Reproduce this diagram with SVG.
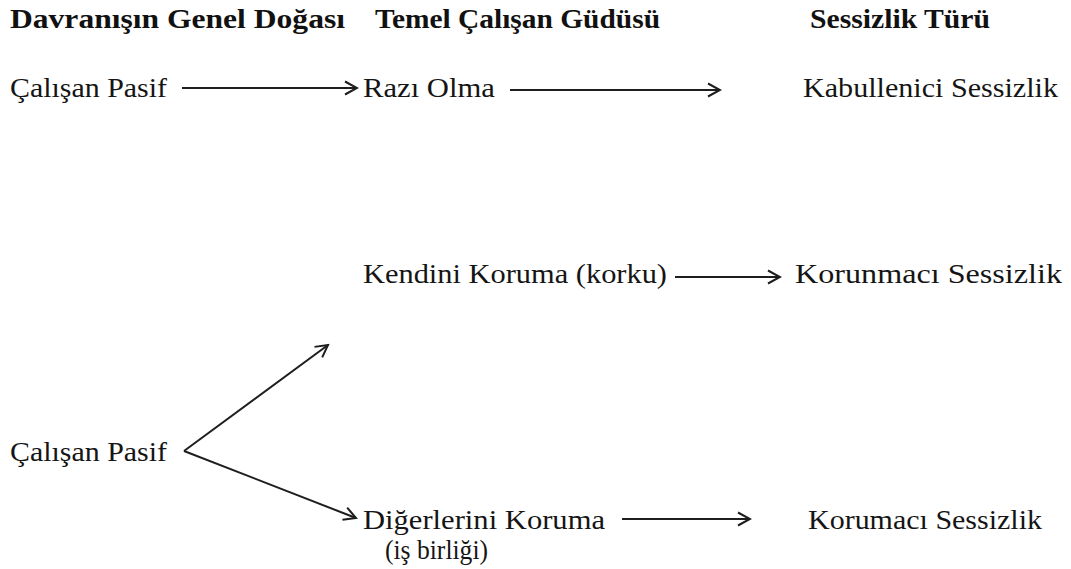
<svg xmlns="http://www.w3.org/2000/svg" width="1071" height="569" viewBox="0 0 1071 569">
  <style>
    .head { font-size: 28px; font-weight: bold; fill: #111; }
    .lbl { font-size: 28px; fill: #151515; }
    .conn line { stroke: #1e1e1e; stroke-width: 2; fill: none; marker-end: url(#chev); }
  </style>
  <defs>
    <marker id="chev" viewBox="0 0 16 16" refX="14" refY="8" markerWidth="16" markerHeight="16" markerUnits="userSpaceOnUse" orient="auto">
      <path d="M2,1.5 L14,8 L2,14.5" fill="none" stroke="#1e1e1e" stroke-width="2"/>
    </marker>
  </defs>

  <g font-family="Liberation Serif, Tinos, DejaVu Serif, serif">
  <!-- column headings -->
  <g id="headings">
    <text class="head" x="10" y="28" textLength="335" lengthAdjust="spacingAndGlyphs">Davranışın Genel Doğası</text>
    <text class="head" x="375" y="28" textLength="285" lengthAdjust="spacingAndGlyphs">Temel Çalışan Güdüsü</text>
    <text class="head" x="810" y="28" textLength="180" lengthAdjust="spacingAndGlyphs">Sessizlik Türü</text>
  </g>

  <!-- nodes -->
  <g id="pasif-1"><text class="lbl" x="10" y="97" textLength="157" lengthAdjust="spacingAndGlyphs">Çalışan Pasif</text></g>
  <g id="razi-olma"><text class="lbl" x="363" y="97" textLength="132" lengthAdjust="spacingAndGlyphs">Razı Olma</text></g>
  <g id="kabullenici"><text class="lbl" x="803" y="97" textLength="255" lengthAdjust="spacingAndGlyphs">Kabullenici Sessizlik</text></g>

  <g id="kendini-koruma"><text class="lbl" x="363" y="283" textLength="304" lengthAdjust="spacingAndGlyphs">Kendini Koruma (korku)</text></g>
  <g id="korunmaci"><text class="lbl" x="795" y="283" textLength="267" lengthAdjust="spacingAndGlyphs">Korunmacı Sessizlik</text></g>

  <g id="pasif-2"><text class="lbl" x="10" y="461" textLength="157" lengthAdjust="spacingAndGlyphs">Çalışan Pasif</text></g>

  <g id="digerlerini-koruma">
    <text class="lbl" x="363" y="529" textLength="242" lengthAdjust="spacingAndGlyphs">Diğerlerini Koruma</text>
    <text class="lbl" x="385" y="559" textLength="103" lengthAdjust="spacingAndGlyphs">(iş birliği)</text>
  </g>
  <g id="korumaci"><text class="lbl" x="808" y="529" textLength="234" lengthAdjust="spacingAndGlyphs">Korumacı Sessizlik</text></g>
  </g>

  <!-- connectors -->
  <g class="conn" id="connectors">
    <line x1="182" y1="88" x2="357" y2="88"/>
    <line x1="510" y1="90" x2="720" y2="90"/>
    <line x1="675" y1="277" x2="780" y2="277"/>
    <line x1="184" y1="451" x2="328" y2="345"/>
    <line x1="184" y1="451" x2="356" y2="518"/>
    <line x1="622" y1="519" x2="750" y2="519"/>
  </g>
</svg>
